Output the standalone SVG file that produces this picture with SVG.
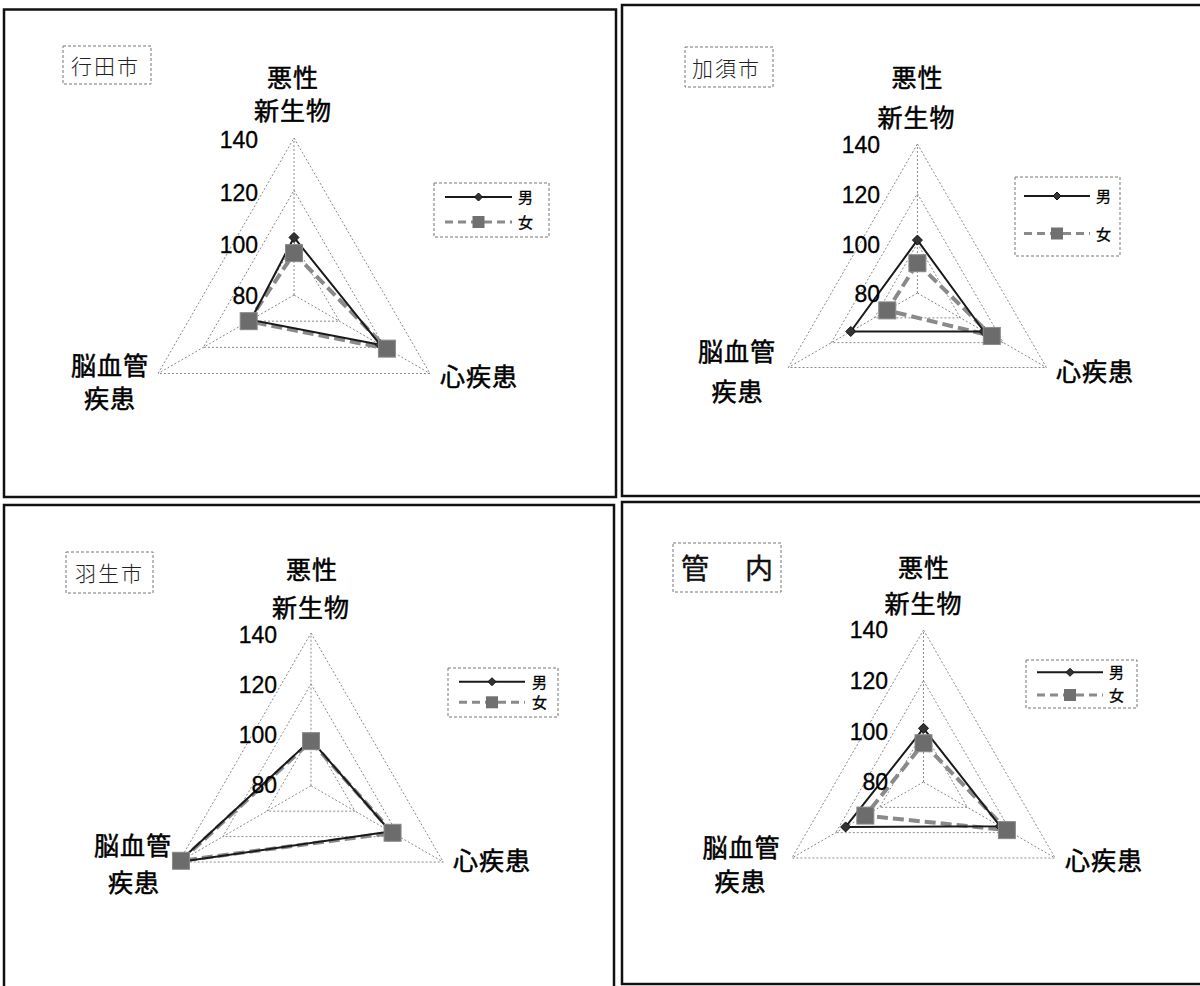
<svg xmlns="http://www.w3.org/2000/svg" xmlns:xlink="http://www.w3.org/1999/xlink" width="1200" height="986" viewBox="0 0 1200 986">
<defs>
<style>
.frame{fill:none;stroke:#111;stroke-width:2.5}
.tbox{fill:none;stroke:#777;stroke-width:1;stroke-dasharray:3 2}
.grid{fill:none;stroke:#8a8a8a;stroke-width:1;stroke-dasharray:2 2}
.male{fill:none;stroke:#1a1a1a;stroke-width:2;stroke-linejoin:round}
.female{fill:none;stroke:#8a8a8a;stroke-width:4;stroke-dasharray:11 5}
.lfem{fill:none;stroke:#8a8a8a;stroke-width:3;stroke-dasharray:8 5}
.cat{font-family:"Noto Sans CJK JP","Noto Sans CJK SC",sans-serif;font-size:25px;fill:#000;stroke:#000;stroke-width:0.5;letter-spacing:1px}
.mid{text-anchor:middle}
.num{font-family:"Liberation Sans",Arial,sans-serif;font-size:23px;fill:#000;stroke:#000;stroke-width:0.3;text-anchor:end}
.leg{font-family:"Noto Sans CJK JP",sans-serif;font-size:15px;fill:#000;stroke:#000;stroke-width:0.3}
.ttl{font-family:"Noto Sans CJK JP",sans-serif;font-size:21px;font-weight:300;letter-spacing:2px;fill:#222}
.ttl2{font-family:"Noto Sans CJK JP",sans-serif;font-size:28px;letter-spacing:4px;fill:#111;stroke:#111;stroke-width:0.4}
</style>
<path id="dia" d="M0,-5 L5,0 L0,5 L-5,0Z" fill="#333" stroke="#111" stroke-width="1"/>
<rect id="sq" x="-8.5" y="-8.5" width="17" height="17" fill="#6c6c6c" stroke="#8a8a8a" stroke-width="1"/>
<rect id="sqs" x="-6" y="-6" width="12" height="12" fill="#707070"/>
<path id="dias" d="M0,-4 L4,0 L0,4 L-4,0Z" fill="#333" stroke="#111" stroke-width="1"/>
</defs>
<rect width="1200" height="986" fill="#fff"/>

<g id="panel-gyoda">
<rect class="frame" x="4" y="9.5" width="612" height="487.5"/>
<rect class="tbox" x="63" y="46" width="88" height="38"/>
<text class="ttl" x="71" y="74">行田市</text>
<path class="grid" d="M294,138 L429.97,373.5 L158.03,373.5 Z M294,190.33 L384.64,347.33 L203.36,347.33 Z M294,242.67 L339.32,321.17 L248.68,321.17 Z M294,295 L294,138 M294,295 L429.97,373.5 M294,295 L158.03,373.5"/>
<path class="female" d="M294,253.13 L386.91,348.64 L248.68,321.17 Z"/>
<path class="male" d="M294,237.43 L380.11,344.72 L250.94,319.86 Z"/>
<use xlink:href="#dia" x="294" y="237.43"/><use xlink:href="#dia" x="380.11" y="344.72"/><use xlink:href="#dia" x="250.94" y="319.86"/>
<use xlink:href="#sq" x="294" y="253.13"/><use xlink:href="#sq" x="386.91" y="348.64"/><use xlink:href="#sq" x="248.68" y="321.17"/>
<text class="num" x="258" y="148">140</text>
<text class="num" x="258" y="200.5">120</text>
<text class="num" x="258" y="253">100</text>
<text class="num" x="258" y="304">80</text>
<text class="cat mid" x="293" y="86.5">悪性</text>
<text class="cat mid" x="293" y="119.5">新生物</text>
<text class="cat mid" x="110" y="375">脳血管</text>
<text class="cat mid" x="110" y="408">疾患</text>
<text class="cat" x="440" y="385.5">心疾患</text>
<rect class="tbox" x="434" y="183" width="115" height="54"/>
<line class="male" x1="445" y1="197" x2="512" y2="197"/><use xlink:href="#dias" x="478.5" y="197"/>
<text class="leg" x="518" y="203">男</text>
<line class="lfem" x1="445" y1="222" x2="512" y2="222"/><use xlink:href="#sqs" x="478.5" y="222"/>
<text class="leg" x="518" y="228">女</text>
</g>

<g id="panel-kazo">
<rect class="frame" x="622" y="5" width="600" height="491"/>
<rect class="tbox" x="685" y="47" width="88" height="40"/>
<text class="ttl" x="692" y="75.5">加須市</text>
<path class="grid" d="M917.4,144 L1046.44,367.5 L788.36,367.5 Z M917.4,193.67 L1003.43,342.67 L831.37,342.67 Z M917.4,243.33 L960.41,317.83 L874.39,317.83 Z M917.4,293 L917.4,144 M917.4,293 L1046.44,367.5 M917.4,293 L788.36,367.5"/>
<path class="female" d="M917.4,263.2 L991.81,335.96 L887.29,310.38 Z"/>
<path class="male" d="M917.4,240.1 L984.07,331.49 L850.73,331.49 Z"/>
<use xlink:href="#dia" x="917.4" y="240.1"/><use xlink:href="#dia" x="984.07" y="331.49"/><use xlink:href="#dia" x="850.73" y="331.49"/>
<use xlink:href="#sq" x="917.4" y="263.2"/><use xlink:href="#sq" x="991.81" y="335.96"/><use xlink:href="#sq" x="887.29" y="310.38"/>
<text class="num" x="880" y="153">140</text>
<text class="num" x="880" y="203">120</text>
<text class="num" x="880" y="253">100</text>
<text class="num" x="880" y="301.5">80</text>
<text class="cat mid" x="917.5" y="87">悪性</text>
<text class="cat mid" x="916.5" y="126.5">新生物</text>
<text class="cat mid" x="737" y="360.5">脳血管</text>
<text class="cat mid" x="737.5" y="400.5">疾患</text>
<text class="cat" x="1056" y="380.5">心疾患</text>
<rect class="tbox" x="1015" y="177" width="105" height="79"/>
<line class="male" x1="1024" y1="196" x2="1090" y2="196"/><use xlink:href="#dias" x="1057" y="196"/>
<text class="leg" x="1096" y="202">男</text>
<line class="lfem" x1="1024" y1="233.5" x2="1090" y2="233.5"/><use xlink:href="#sqs" x="1057" y="233.5"/>
<text class="leg" x="1096" y="239.5">女</text>
</g>

<g id="panel-hanyu">
<rect class="frame" x="4" y="505" width="610" height="500"/>
<rect class="tbox" x="66" y="552" width="87" height="41"/>
<text class="ttl" x="75" y="580.5">羽生市</text>
<path class="grid" d="M311,633 L443.24,862.05 L178.76,862.05 Z M311,683.9 L399.16,836.6 L222.84,836.6 Z M311,734.8 L355.08,811.15 L266.92,811.15 Z M311,785.7 L311,633 M311,785.7 L443.24,862.05 M311,785.7 L178.76,862.05"/>
<path class="female" d="M311,741.16 L392.55,832.78 L180.96,860.78 Z"/>
<path class="male" d="M311,739.89 L390.35,831.51 L178.76,862.05 Z"/>
<use xlink:href="#dia" x="311" y="739.89"/><use xlink:href="#dia" x="390.35" y="831.51"/><use xlink:href="#dia" x="178.76" y="862.05"/>
<use xlink:href="#sq" x="311" y="741.16"/><use xlink:href="#sq" x="392.55" y="832.78"/><use xlink:href="#sq" x="180.96" y="860.78"/>
<text class="num" x="277" y="642.5">140</text>
<text class="num" x="277" y="692.5">120</text>
<text class="num" x="277" y="743">100</text>
<text class="num" x="277" y="793">80</text>
<text class="cat mid" x="312" y="578.5">悪性</text>
<text class="cat mid" x="311" y="616.5">新生物</text>
<text class="cat mid" x="133" y="854.5">脳血管</text>
<text class="cat mid" x="134" y="891.5">疾患</text>
<text class="cat" x="453" y="869.5">心疾患</text>
<rect class="tbox" x="448" y="668" width="110" height="49"/>
<line class="male" x1="459" y1="681.7" x2="525" y2="681.7"/><use xlink:href="#dias" x="492" y="681.7"/>
<text class="leg" x="532" y="687.7">男</text>
<line class="lfem" x1="459" y1="702.3" x2="525" y2="702.3"/><use xlink:href="#sqs" x="492" y="702.3"/>
<text class="leg" x="532" y="708.3">女</text>
</g>

<g id="panel-kannai">
<rect class="frame" x="622" y="502" width="600" height="482"/>
<rect class="tbox" x="673" y="543" width="108" height="49"/>
<text class="ttl2" x="681" y="579">管　内</text>
<path class="grid" d="M923.5,630 L1055.14,858 L791.86,858 Z M923.5,680.67 L1011.26,832.67 L835.74,832.67 Z M923.5,731.33 L967.38,807.33 L879.62,807.33 Z M923.5,782 L923.5,630 M923.5,782 L1055.14,858 M923.5,782 L791.86,858"/>
<path class="female" d="M923.5,743.24 L1006.87,830.13 L865.36,815.57 Z"/>
<path class="male" d="M923.5,728.29 L1000.29,826.33 L845.62,826.97 Z"/>
<use xlink:href="#dia" x="923.5" y="728.29"/><use xlink:href="#dia" x="1000.29" y="826.33"/><use xlink:href="#dia" x="845.62" y="826.97"/>
<use xlink:href="#sq" x="923.5" y="743.24"/><use xlink:href="#sq" x="1006.87" y="830.13"/><use xlink:href="#sq" x="865.36" y="815.57"/>
<text class="num" x="888" y="637.5">140</text>
<text class="num" x="888" y="688.5">120</text>
<text class="num" x="888" y="739.5">100</text>
<text class="num" x="888" y="789.5">80</text>
<text class="cat mid" x="924" y="576.5">悪性</text>
<text class="cat mid" x="923.5" y="612.5">新生物</text>
<text class="cat mid" x="741.5" y="856.5">脳血管</text>
<text class="cat mid" x="740.5" y="890.5">疾患</text>
<text class="cat" x="1065" y="869.5">心疾患</text>
<rect class="tbox" x="1026" y="660" width="111" height="48"/>
<line class="male" x1="1037" y1="672.3" x2="1103" y2="672.3"/><use xlink:href="#dias" x="1070" y="672.3"/>
<text class="leg" x="1109" y="678.3">男</text>
<line class="lfem" x1="1037" y1="695" x2="1103" y2="695"/><use xlink:href="#sqs" x="1070" y="695"/>
<text class="leg" x="1109" y="701">女</text>
</g>
</svg>
